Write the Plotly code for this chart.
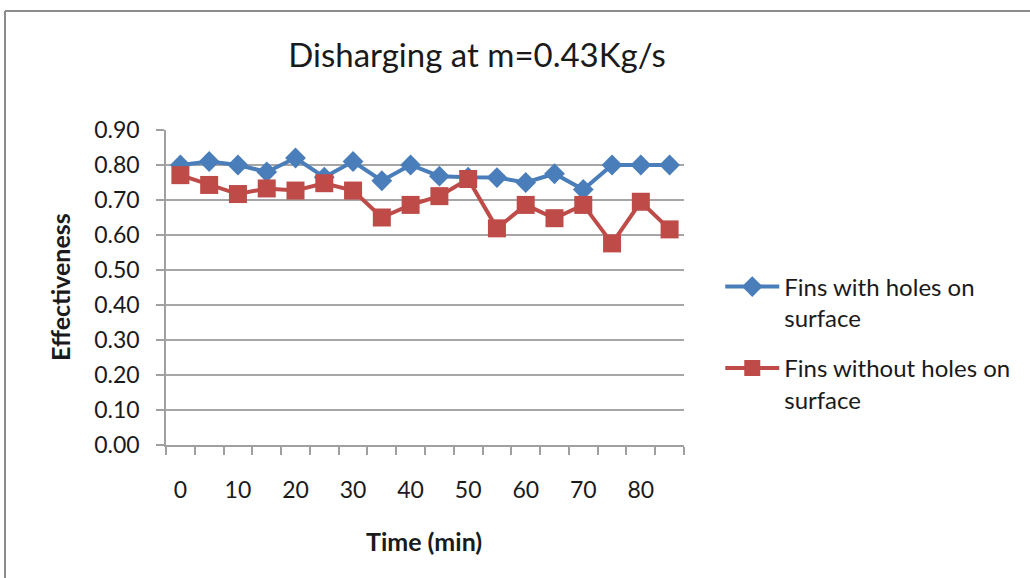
import plotly.graph_objects as go

time_min = [0, 5, 10, 15, 20, 25, 30, 35, 40, 45, 50, 55, 60, 65, 70, 75, 80, 85]
with_holes = [0.80, 0.81, 0.80, 0.78, 0.82, 0.765, 0.81, 0.755, 0.80, 0.768, 0.765, 0.764,
              0.75, 0.775, 0.73, 0.80, 0.80, 0.80]
without_holes = [0.771, 0.743, 0.717, 0.733, 0.727, 0.748, 0.727, 0.65, 0.686, 0.711, 0.76,
                 0.619, 0.686, 0.648, 0.686, 0.576, 0.695, 0.616]
x_tick_vals = [0, 10, 20, 30, 40, 50, 60, 70, 80]
y_tick_vals = [0.0, 0.1, 0.2, 0.3, 0.4, 0.5, 0.6, 0.7, 0.8, 0.9]

FONT = "Lato"
BLUE = "#4A7EBB"
RED = "#BE4B48"
TXT = "#1a1a1a"

fig = go.Figure()
fig.add_trace(go.Scatter(
    x=time_min, y=with_holes, mode="lines+markers",
    name="Fins with holes on<br>surface", legendgroup="g1",
    line=dict(color=BLUE, width=4),
    marker=dict(symbol="diamond", size=16, color=BLUE),
))
fig.add_trace(go.Scatter(
    x=time_min, y=without_holes, mode="lines+markers",
    name="Fins without holes on<br>surface", legendgroup="g2",
    line=dict(color=RED, width=4),
    marker=dict(symbol="square", size=18, color=RED),
))

fig.update_layout(
    width=1030, height=578,
    margin=dict(l=166, r=346, t=130, b=133),
    paper_bgcolor="white", plot_bgcolor="white",
    font=dict(family=FONT, color=TXT, size=22),
    title=dict(text="Disharging at m=0.43Kg/s", x=477 / 1030, xref="container", xanchor="center",
               y=1 - 55 / 578, yref="container", yanchor="middle",
               font=dict(family=FONT, size=33, color=TXT)),
    showlegend=True,
    legend=dict(x=1.07, y=0.573, xanchor="left", yanchor="top", valign="top",
                font=dict(family=FONT, size=24, color=TXT),
                tracegroupgap=16, itemwidth=54, bgcolor="rgba(0,0,0,0)"),
)

fig.update_xaxes(
    range=[-2.5, 87.5], tickvals=x_tick_vals, ticktext=[str(v) for v in x_tick_vals],
    ticks="", showgrid=False, zeroline=False,
    showline=True, linecolor="#a0a0a0", linewidth=1.5,
    ticklabelstandoff=24,
    tickfont=dict(family=FONT, size=23, color=TXT),
    minor=dict(ticks="outside", tick0=-2.5, dtick=5, ticklen=8, tickcolor="#a0a0a0",
               tickwidth=1.5, showgrid=False),
)
fig.update_yaxes(
    range=[0, 0.9], tickvals=y_tick_vals, tickformat=".2f",
    ticks="outside", ticklen=8, tickcolor="#a0a0a0", tickwidth=1.5,
    showgrid=True, gridcolor="#a6a6a6", gridwidth=1.5, zeroline=False,
    showline=True, linecolor="#a0a0a0", linewidth=1.5,
    ticklabelstandoff=12,
    tickfont=dict(family=FONT, size=23, color=TXT),
)

fig.add_annotation(text="<b>Effectiveness</b>", xref="paper", yref="paper",
                   x=(60 - 166) / 518, y=(445 - 287) / 315, textangle=-90,
                   showarrow=False, font=dict(family=FONT, size=25, color=TXT),
                   xanchor="center", yanchor="middle")
fig.add_annotation(text="<b>Time (min)</b>", xref="paper", yref="paper",
                   x=(424 - 166) / 518, y=(445 - 541) / 315,
                   showarrow=False, font=dict(family=FONT, size=25, color=TXT),
                   xanchor="center", yanchor="middle")

# outer chart border (top and left edges visible in the crop)
fig.add_shape(type="line", xref="paper", yref="paper",
              x0=(5 - 166) / 518, x1=(1030 - 166) / 518,
              y0=(445 - 11) / 315, y1=(445 - 11) / 315,
              line=dict(color="#8c8c8c", width=2))
fig.add_shape(type="line", xref="paper", yref="paper",
              x0=(5 - 166) / 518, x1=(5 - 166) / 518,
              y0=(445 - 11) / 315, y1=(445 - 580) / 315,
              line=dict(color="#8c8c8c", width=2))

fig.write_html("out.html")
